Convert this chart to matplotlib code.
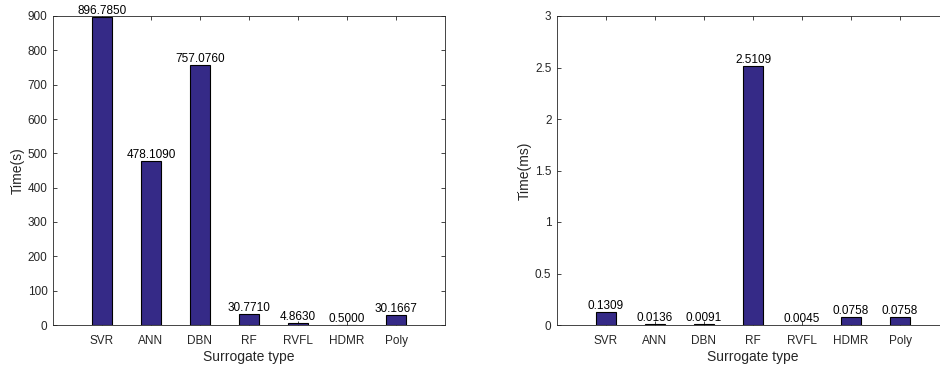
import matplotlib
matplotlib.use('Agg')
import matplotlib.pyplot as plt

# data
types = ['SVR', 'ANN', 'DBN', 'RF', 'RVFL', 'HDMR', 'Poly']
train_s = [896.7850, 478.1090, 757.0760, 30.7710, 4.8630, 0.5000, 30.1667]
pred_ms = [0.1309, 0.0136, 0.0091, 2.5109, 0.0045, 0.0758, 0.0758]
train_yticks = list(range(0, 901, 100))
pred_yticks = [0, 0.5, 1, 1.5, 2, 2.5, 3]

plt.rcParams['font.family'] = ['Liberation Sans', 'DejaVu Sans']
bar_color = '#352a87'
axis_gray = '#262626'

fig = plt.figure(figsize=(9.4, 3.67), dpi=100)
ax1 = fig.add_axes([53 / 940, 1 - 325 / 367, 392 / 940, 309 / 367])
ax2 = fig.add_axes([557 / 940, 1 - 325 / 367, 392 / 940, 309 / 367])


def draw(ax, vals, yticks, ylabel, fmt):
    x = list(range(1, len(vals) + 1))
    ax.bar(x, vals, width=0.4, color=bar_color, edgecolor='black', linewidth=0.8, zorder=2)
    for xi, v in zip(x, vals):
        ax.text(xi, v, fmt.format(v), ha='center', va='bottom', fontsize=8.5, color='black')
    ax.set_xlim(0, len(vals) + 1)
    ax.set_ylim(yticks[0], yticks[-1])
    ax.set_xticks(x)
    ax.set_xticklabels(types)
    ax.set_yticks(yticks)
    ax.set_yticklabels([('%g' % t) for t in yticks])
    ax.tick_params(direction='in', top=True, right=True, length=3, width=0.6,
                   labelsize=8.5, colors=axis_gray, labelcolor=axis_gray, pad=4)
    ax.tick_params(axis='x', pad=7)
    for sp in ax.spines.values():
        sp.set_color(axis_gray)
        sp.set_linewidth(0.6)
    ax.set_xlabel('Surrogate type', fontsize=10, color=axis_gray, labelpad=2)
    ax.set_ylabel(ylabel, fontsize=10, color=axis_gray, labelpad=2)


draw(ax1, train_s, train_yticks, 'Time(s)', '{:.4f}')
draw(ax2, pred_ms, pred_yticks, 'Time(ms)', '{:.4f}')

plt.savefig('out.png', dpi=100)
